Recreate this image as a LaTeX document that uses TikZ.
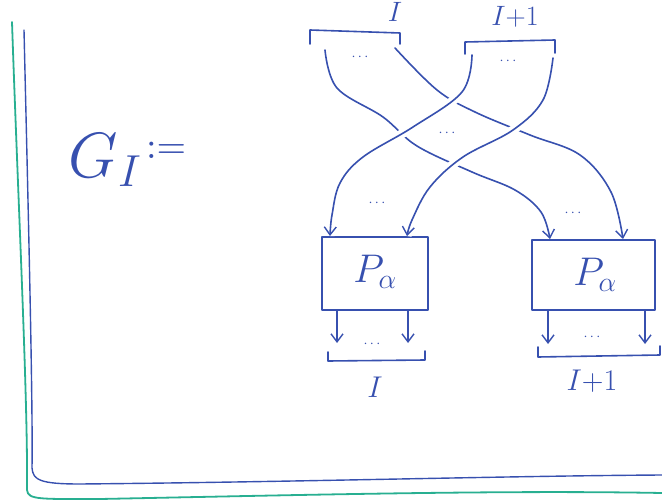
\RequirePackage{fix-cm}
\documentclass[tikz,border=0pt]{standalone}
\usetikzlibrary{arrows.meta}
\definecolor{ink}{RGB}{55,80,175}
\definecolor{teal}{RGB}{40,175,145}
\begin{document}
\begin{tikzpicture}[x=1pt,y=-1pt,
  ink/.style={draw=ink, line width=1.6pt, line cap=round, line join=round},
  strand/.style={ink, -{Straight Barb[length=8pt,width=12pt,line width=1.4pt]}},
  over/.style={preaction={draw=white, line width=9pt, -}},
  box/.style={ink, rectangle, inner sep=0pt},
  lbl/.style={text=ink, inner sep=0pt},
  dots/.style={text=ink, inner sep=0pt, font=\Large}]
\useasboundingbox (0,0) rectangle (662,503);
% frames
\draw[draw=teal, line width=1.8pt, line cap=round] (12,22) .. controls (18,200) and (28,400) .. (27,490) .. controls (28,500) and (40,499) .. (100,499) .. controls (300,495) and (500,490) .. (662,493);
\draw[ink, line width=1.4pt] (24,30) .. controls (28,200) and (33,400) .. (32,468) .. controls (33,480) and (40,484) .. (80,484) .. controls (300,482) and (500,476) .. (662,475);
% title
\node[lbl, font=\fontsize{64}{64}\selectfont] (g) at (105,160) {$G_I$};
\node[lbl, anchor=west] (def) at (146,150) {\scalebox{3.8}{$:=$}};
% top brackets
\draw[ink] (310,44) -- (310,30) -- (400,33) -- (400,44);
\draw[ink] (465,54) -- (465,42) -- (555,40) -- (555,53);
\node[lbl, font=\fontsize{28}{28}\selectfont] (tl) at (395,12) {$I$};
\node[lbl, font=\fontsize{28}{28}\selectfont] (tr) at (515,17) {$I{+}1$};
\node[dots] (d1) at (360,57) {$\cdots$};
\node[dots] (d2) at (508,61) {$\cdots$};
% boxes
\node[box, minimum width=106pt, minimum height=73pt] (lb) at (375,273.5) {};
\node[box, minimum width=123pt, minimum height=70pt] (rb) at (593.5,275) {};
\node[lbl, font=\fontsize{40}{40}\selectfont] (lp) at (375,272) {$P_\alpha$};
\node[lbl, font=\fontsize{40}{40}\selectfont] (rp) at (595,275) {$P_\alpha$};
% strand endpoints
\coordinate (a0) at (325,50);
\coordinate (b0) at (395,48);
\coordinate (c0) at (472,55);
\coordinate (e0) at (553,58);
\coordinate (a1) at (550,239);
\coordinate (b1) at (623,239);
\coordinate (c1) at (330,236);
\coordinate (e1) at (407,236);
% under strands
\draw[strand] plot[smooth, tension=0.6] coordinates {(a0) (337,88) (383,117) (417,146) (472,172) (515,190) (541,212) (a1)};
\draw[strand] plot[smooth, tension=0.6] coordinates {(b0) (437,90) (475,112) (530,135) (580,155) (611,192) (b1)};
% over strands
\draw[strand, over] plot[smooth, tension=0.6] coordinates {(c0) (462,92) (413,127) (363,157) (340,183) (332,215) (c1)};
\draw[strand, over] plot[smooth, tension=0.6] coordinates {(e0) (543,100) (513,130) (463,157) (430,187) (412,220) (e1)};
\node[dots] (d3) at (447,133) {$\cdots$};
\node[dots] (d4) at (377,203) {$\cdots$};
\node[dots] (d5) at (573,213) {$\cdots$};
% outputs
\coordinate (lo1) at (337,343);
\coordinate (lo2) at (408,343);
\coordinate (ro1) at (548,344);
\coordinate (ro2) at (645,344);
\draw[strand] (lb.south west -| lo1) -- (lo1);
\draw[strand] (lb.south west -| lo2) -- (lo2);
\draw[strand] (rb.south west -| ro1) -- (ro1);
\draw[strand] (rb.south west -| ro2) -- (ro2);
\node[dots] (d6) at (372,344) {$\cdots$};
\node[dots] (d7) at (592,337) {$\cdots$};
% bottom brackets
\draw[ink] (328,352) -- (328,361) -- (425,360) -- (425,351);
\draw[ink] (538,347) -- (538,357) -- (660,355) -- (660,346);
\node[lbl, font=\fontsize{30}{30}\selectfont] (bl) at (375,387) {$I$};
\node[lbl, font=\fontsize{30}{30}\selectfont] (br) at (592,381) {$I{+}1$};
\end{tikzpicture}
\end{document}
